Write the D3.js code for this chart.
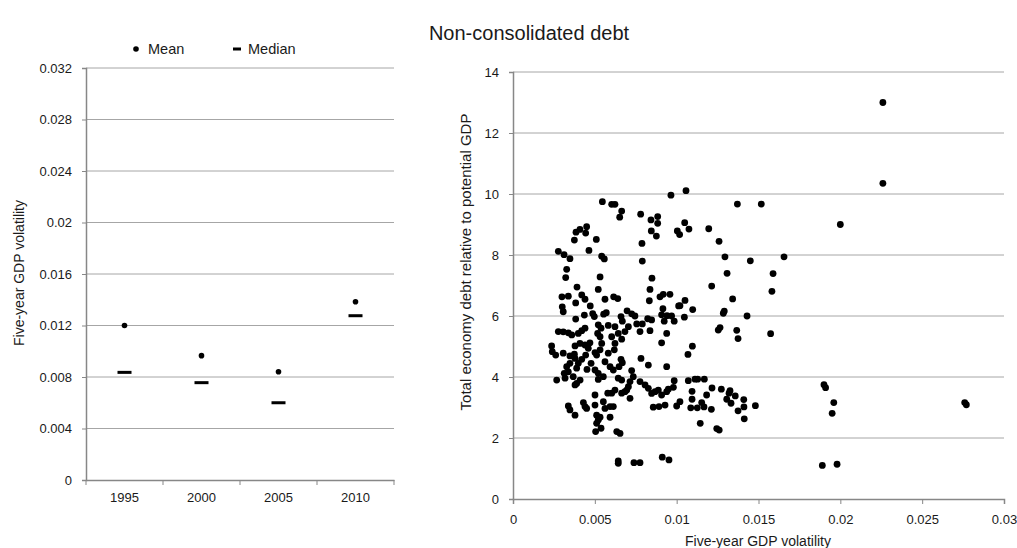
<!DOCTYPE html>
<html>
<head>
<meta charset="utf-8">
<script src="https://cdn.jsdelivr.net/npm/d3@7"></script>
<style>
  html, body { margin: 0; padding: 0; background: #fff; }
  svg { display: block; font-family: "Liberation Sans", Arial, sans-serif; }
</style>
</head>
<body>
<svg id="chart" width="1017" height="548"></svg>
<script>
// ---- Left panel: GDP volatility by period ----
const years = ["1995", "2000", "2005", "2010"];
const meanVol = [0.0120, 0.00966, 0.00841, 0.01385];
const medianVol = [0.00836, 0.00756, 0.0060, 0.01276];
const leftTicks = [0, 0.004, 0.008, 0.012, 0.016, 0.02, 0.024, 0.028, 0.032];

// ---- Right panel: volatility vs. total economy debt ----
const rightXTicks = [0, 0.005, 0.01, 0.015, 0.02, 0.025, 0.03];
const rightYTicks = [0, 2, 4, 6, 8, 10, 12, 14];
// [five-year GDP volatility, total debt relative to potential GDP]
const scatterPoints = [
  [0.0226,13.0],[0.0226,10.35],[0.0200,9.0],[0.0190,3.75],[0.0191,3.65],[0.0196,3.16],[0.0195,2.81],
  [0.0276,3.16],[0.0277,3.09],[0.0189,1.10],[0.0198,1.14],
  [0.01057,10.11],[0.01371,9.67],[0.01517,9.67],[0.01049,9.06],[0.01075,8.85],[0.01196,8.86],[0.01259,8.45],
  [0.01295,7.94],[0.0145,7.81],[0.01656,7.94],[0.01308,7.40],[0.01589,7.39],[0.01214,6.98],[0.01582,6.81],
  [0.01342,6.56],[0.01051,6.51],[0.0102,6.34],[0.01098,6.21],[0.01047,5.96],[0.01285,6.09],[0.01291,6.16],
  [0.0143,6.0],[0.01254,5.54],[0.01265,5.62],[0.01367,5.53],[0.01375,5.26],[0.01574,5.42],[0.01096,5.01],
  [0.01069,4.74],[0.01071,3.88],[0.01112,3.93],[0.01128,3.93],[0.01169,3.93],[0.01094,3.53],[0.01216,3.64],
  [0.01273,3.60],[0.01326,3.55],[0.0132,3.47],[0.01183,3.41],[0.01358,3.38],[0.0141,3.26],[0.01306,3.27],
  [0.0102,3.19],[0.01094,3.27],[0.01086,2.99],[0.01126,2.99],[0.01167,3.02],[0.01153,3.16],[0.01212,2.94],
  [0.01332,3.14],[0.01411,3.02],[0.01481,3.06],[0.01375,2.89],[0.01413,2.63],[0.01144,2.48],[0.01245,2.31],
  [0.0126,2.26],
  [0.00965,9.96],[0.00546,9.75],[0.00603,9.66],[0.00623,9.66],[0.00664,9.44],[0.00652,9.24],[0.0078,9.34],
  [0.00884,9.26],[0.00843,9.15],[0.00884,9.04],[0.01004,8.79],[0.01018,8.67],[0.00845,8.79],[0.00876,8.62],
  [0.0045,8.93],[0.00409,8.84],[0.00385,8.75],[0.00444,8.72],[0.00375,8.49],[0.00509,8.51],[0.00788,8.38],
  [0.00277,8.12],[0.00312,8.01],[0.00348,7.88],[0.00464,8.15],[0.00542,7.96],[0.00558,7.87],[0.0079,7.80],
  [0.00328,7.53],[0.00322,7.26],[0.00532,7.28],[0.00849,7.24],[0.00391,6.95],[0.00521,6.87],[0.00837,6.87],
  [0.00299,6.63],[0.00338,6.65],[0.0042,6.69],[0.0044,6.55],[0.00562,6.55],[0.00615,6.63],[0.0064,6.57],
  [0.00898,6.63],[0.00918,6.71],[0.00959,6.71],[0.00833,6.50],[0.00301,6.30],[0.00307,6.14],[0.00383,6.43],
  [0.00472,6.33],[0.00916,6.24],[0.01012,6.33],[0.00383,5.90],[0.00436,6.03],[0.00487,6.08],[0.00497,5.98],
  [0.00554,6.06],[0.0057,6.11],[0.0066,5.98],[0.00668,5.83],[0.00697,6.17],[0.00725,6.07],[0.00745,6.0],
  [0.00823,5.91],[0.00847,5.87],[0.00908,6.04],[0.00941,6.01],[0.00969,6.0],[0.00985,5.83],[0.00924,5.83],
  [0.00277,5.49],[0.00307,5.48],[0.00338,5.45],[0.00359,5.38],[0.00399,5.43],[0.0042,5.52],[0.0044,5.60],
  [0.00521,5.71],[0.00538,5.60],[0.00517,5.43],[0.00582,5.69],[0.00623,5.65],[0.00643,5.43],[0.00684,5.49],
  [0.00705,5.65],[0.00756,5.74],[0.0079,5.74],[0.00776,5.49],[0.00837,5.52],[0.00939,5.43],
  [0.00908,5.12],[0.00236,5.02],[0.0024,4.83],[0.00261,4.72],[0.00307,4.78],[0.00348,4.69],[0.00375,4.75],
  [0.00379,5.02],[0.00409,5.10],[0.0044,5.05],[0.0046,4.94],[0.0047,5.12],[0.00501,4.80],[0.00511,4.72],
  [0.00399,4.45],[0.00348,4.45],[0.00379,4.61],[0.0042,4.58],[0.00389,4.29],[0.00328,4.34],[0.00444,4.72],
  [0.00477,4.45],[0.00452,4.25],[0.00532,4.89],[0.00542,5.10],[0.00532,5.32],[0.00582,4.78],[0.00623,5.10],
  [0.00619,4.89],[0.00603,5.32],[0.00664,5.24],[0.0066,4.58],[0.00668,4.47],[0.00648,4.34],[0.00562,4.50],
  [0.00593,4.34],[0.00613,4.23],[0.00501,4.23],[0.00521,4.12],[0.00552,4.01],[0.00521,3.92],[0.00782,4.61],
  [0.00827,4.39],[0.00939,4.34],[0.00725,4.21],[0.00735,4.01],[0.00715,3.85],[0.00705,3.68],[0.00684,3.52],
  [0.00664,3.47],[0.00715,3.30],[0.00695,3.57],[0.00643,3.96],[0.00664,3.90],[0.00623,3.57],[0.00313,4.12],
  [0.00338,4.17],[0.00368,4.01],[0.00318,3.96],[0.00267,3.90],[0.00389,3.79],[0.0041,3.90],[0.00379,3.74],
  [0.00776,3.85],[0.00807,3.74],[0.00827,3.63],[0.00847,3.46],[0.00868,3.52],[0.00888,3.57],[0.00908,3.41],
  [0.00939,3.52],[0.00949,3.60],[0.0098,3.66],[0.00985,3.88],[0.00857,3.01],[0.00892,3.03],[0.00929,3.08],
  [0.0100,3.05],[0.00338,3.05],[0.00348,2.92],[0.00379,2.75],[0.0043,3.16],[0.0044,3.03],[0.0045,2.97],
  [0.00501,3.41],[0.00501,3.08],[0.00552,3.19],[0.00562,2.97],[0.00593,3.03],[0.00613,3.03],[0.00579,3.47],
  [0.00603,3.47],[0.00511,2.75],[0.00521,2.59],[0.00511,2.48],[0.00532,2.68],[0.00593,2.68],[0.00538,2.32],
  [0.00505,2.21],[0.00634,2.21],[0.00654,2.15],[0.00643,1.25],[0.00643,1.17],[0.00739,1.19],[0.00776,1.19],
  [0.00912,1.37],[0.00953,1.28]
];

const svg = d3.select("#chart");
const gridColor = "#a6a6a6";
const axisColor = "#878787";
const textColor = "#1a1a1a";
const fontFamily = "Liberation Sans, Arial, sans-serif";

// Title
svg.append("text")
  .attr("x", 529).attr("y", 40)
  .attr("text-anchor", "middle")
  .attr("font-size", 20).attr("fill", textColor)
  .text("Non-consolidated debt");

// ---------- Left panel ----------
const lx = d3.scaleBand().domain(years).range([86, 394]).padding(0);
const ly = d3.scaleLinear().domain([0, 0.032]).range([480, 68]);

const left = svg.append("g");
left.append("g")
  .selectAll("line")
  .data(leftTicks.filter(d => d > 0))
  .join("line")
  .attr("x1", 86).attr("x2", 394)
  .attr("y1", d => ly(d)).attr("y2", d => ly(d))
  .attr("stroke", gridColor).attr("stroke-width", 1);

const lyAxis = left.append("g")
  .attr("transform", "translate(86,0)")
  .call(d3.axisLeft(ly).tickValues(leftTicks)
    .tickFormat(d => d === 0 ? "0" : String(+d.toFixed(3)))
    .tickSizeOuter(0).tickSize(4).tickPadding(10));
const lxAxis = left.append("g")
  .attr("transform", "translate(0,480)")
  .call(d3.axisBottom(lx).tickSize(0).tickPadding(13));
// boundary ticks between periods
left.append("g").selectAll("line")
  .data(years.map(y => lx(y)).concat([lx.range()[1]]))
  .join("line")
  .attr("x1", d => d).attr("x2", d => d)
  .attr("y1", 480).attr("y2", 485)
  .attr("stroke", axisColor);

[lyAxis, lxAxis].forEach(a => {
  a.selectAll(".domain").attr("stroke", axisColor).attr("stroke-width", 1.5);
  a.selectAll(".tick line").attr("stroke", axisColor);
  a.selectAll("text").attr("font-size", 13).attr("fill", textColor).attr("font-family", fontFamily);
});

left.append("g").selectAll("rect")
  .data(medianVol)
  .join("rect")
  .attr("x", (d, i) => lx(years[i]) + lx.bandwidth() / 2 - 7)
  .attr("y", d => ly(d) - 1.5)
  .attr("width", 14).attr("height", 3)
  .attr("fill", "#000");
left.append("g").selectAll("circle")
  .data(meanVol)
  .join("circle")
  .attr("cx", (d, i) => lx(years[i]) + lx.bandwidth() / 2)
  .attr("cy", d => ly(d))
  .attr("r", 2.8).attr("fill", "#000");

left.append("text")
  .attr("transform", "translate(24,273) rotate(-90)")
  .attr("text-anchor", "middle")
  .attr("font-size", 14).attr("fill", textColor)
  .text("Five-year GDP volatility");

// Legend
const legend = svg.append("g");
legend.append("circle").attr("cx", 136).attr("cy", 49).attr("r", 2.8).attr("fill", "#000");
legend.append("text").attr("x", 148).attr("y", 54).attr("font-size", 14.5).attr("fill", textColor).text("Mean");
legend.append("rect").attr("x", 233).attr("y", 47.5).attr("width", 8).attr("height", 3).attr("fill", "#000");
legend.append("text").attr("x", 248).attr("y", 54).attr("font-size", 14.5).attr("fill", textColor).text("Median");

// ---------- Right panel ----------
const rx = d3.scaleLinear().domain([0, 0.03]).range([513, 1004]);
const ry = d3.scaleLinear().domain([0, 14]).range([499, 72]);

const right = svg.append("g");
right.append("g").selectAll("line")
  .data(rightYTicks.filter(d => d > 0))
  .join("line")
  .attr("x1", 513).attr("x2", 1004)
  .attr("y1", d => ry(d)).attr("y2", d => ry(d))
  .attr("stroke", gridColor).attr("stroke-width", 1);

const ryAxis = right.append("g")
  .attr("transform", "translate(513,0)")
  .call(d3.axisLeft(ry).tickValues(rightYTicks).tickFormat(d3.format("d"))
    .tickSizeOuter(0).tickSize(4).tickPadding(10));
const rxAxis = right.append("g")
  .attr("transform", "translate(0,499)")
  .call(d3.axisBottom(rx).tickValues(rightXTicks)
    .tickFormat(d => d === 0 ? "0" : String(+d.toFixed(3)))
    .tickSizeOuter(0).tickSize(5).tickPadding(11));

[ryAxis, rxAxis].forEach(a => {
  a.selectAll(".domain").attr("stroke", axisColor).attr("stroke-width", 1.5);
  a.selectAll(".tick line").attr("stroke", axisColor);
  a.selectAll("text").attr("font-size", 13).attr("fill", textColor).attr("font-family", fontFamily);
});

right.append("g").selectAll("circle")
  .data(scatterPoints)
  .join("circle")
  .attr("cx", d => rx(d[0]))
  .attr("cy", d => ry(d[1]))
  .attr("r", 3.4)
  .attr("fill", "#000");

right.append("text")
  .attr("transform", "translate(471,262) rotate(-90)")
  .attr("text-anchor", "middle")
  .attr("font-size", 15).attr("fill", textColor)
  .text("Total economy debt relative to potential GDP");

right.append("text")
  .attr("x", 758).attr("y", 546)
  .attr("text-anchor", "middle")
  .attr("font-size", 14).attr("fill", textColor)
  .text("Five-year GDP volatility");
</script>
</body>
</html>
